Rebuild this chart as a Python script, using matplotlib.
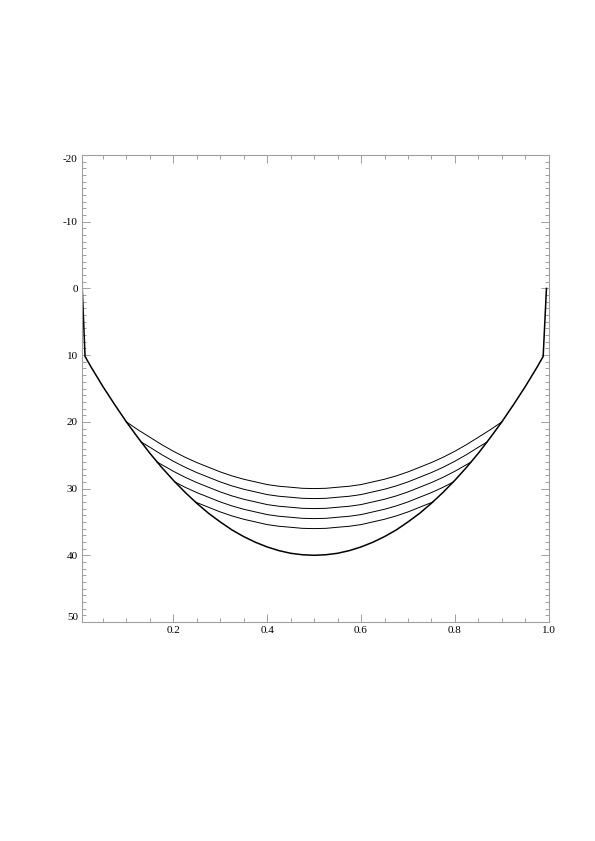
import matplotlib
matplotlib.use("Agg")
import matplotlib.pyplot as plt
from matplotlib.ticker import MultipleLocator

# outer profile (deepest curve)
outer_x = [0.006, 0.012, 0.025, 0.05, 0.075, 0.10, 0.125, 0.15, 0.175, 0.20, 0.225, 0.25,
           0.275, 0.30, 0.325, 0.35, 0.375, 0.40, 0.425, 0.45, 0.475, 0.50,
           0.525, 0.55, 0.575, 0.60, 0.625, 0.65, 0.675, 0.70, 0.725, 0.75,
           0.775, 0.80, 0.825, 0.85, 0.875, 0.90, 0.925, 0.95, 0.975, 0.988, 0.995]
outer_y = [0.0, 10.2, 11.8, 14.7, 17.4, 20.0, 22.4, 24.7, 26.8, 28.75, 30.55, 32.2,
           33.7, 35.0, 36.2, 37.2, 38.05, 38.75, 39.3, 39.7, 39.92, 40.0,
           39.92, 39.7, 39.3, 38.75, 38.05, 37.2, 36.2, 35.0, 33.7, 32.2,
           30.55, 28.75, 26.8, 24.7, 22.4, 20.0, 17.4, 14.7, 11.8, 10.2, 0.0]

# shallower curves, only the part that leaves the outer profile
c1_x = [0.10, 0.125, 0.15, 0.175, 0.20, 0.225, 0.25, 0.275, 0.30, 0.325, 0.35, 0.375, 0.40, 0.425, 0.45, 0.475,
        0.50, 0.525, 0.55, 0.575, 0.60, 0.625, 0.65, 0.675, 0.70, 0.725, 0.75, 0.775, 0.80, 0.825, 0.85, 0.875, 0.90]
c1_y = [20.0, 21.2, 22.3, 23.4, 24.4, 25.3, 26.1, 26.8, 27.5, 28.1, 28.6, 29.0, 29.4, 29.65, 29.8, 29.96,
        30.0, 29.96, 29.8, 29.65, 29.4, 29.0, 28.6, 28.1, 27.5, 26.8, 26.1, 25.3, 24.4, 23.4, 22.3, 21.2, 20.0]

c2_x = [0.131, 0.15, 0.175, 0.20, 0.225, 0.25, 0.275, 0.30, 0.325, 0.35, 0.375, 0.40, 0.425, 0.45, 0.475,
        0.50, 0.525, 0.55, 0.575, 0.60, 0.625, 0.65, 0.675, 0.70, 0.725, 0.75, 0.775, 0.80, 0.825, 0.85, 0.869]
c2_y = [23.0, 23.8, 24.9, 25.9, 26.8, 27.6, 28.3, 29.0, 29.6, 30.1, 30.5, 30.9, 31.15, 31.3, 31.46,
        31.5, 31.46, 31.3, 31.15, 30.9, 30.5, 30.1, 29.6, 29.0, 28.3, 27.6, 26.8, 25.9, 24.9, 23.8, 23.0]

c3_x = [0.165, 0.175, 0.20, 0.225, 0.25, 0.275, 0.30, 0.325, 0.35, 0.375, 0.40, 0.425, 0.45, 0.475,
        0.50, 0.525, 0.55, 0.575, 0.60, 0.625, 0.65, 0.675, 0.70, 0.725, 0.75, 0.775, 0.80, 0.825, 0.835]
c3_y = [26.0, 26.4, 27.4, 28.3, 29.1, 29.8, 30.5, 31.1, 31.6, 32.0, 32.4, 32.65, 32.8, 32.96,
        33.0, 32.96, 32.8, 32.65, 32.4, 32.0, 31.6, 31.1, 30.5, 29.8, 29.1, 28.3, 27.4, 26.4, 26.0]

c4_x = [0.203, 0.225, 0.25, 0.275, 0.30, 0.325, 0.35, 0.375, 0.40, 0.425, 0.45, 0.475,
        0.50, 0.525, 0.55, 0.575, 0.60, 0.625, 0.65, 0.675, 0.70, 0.725, 0.75, 0.775, 0.797]
c4_y = [29.0, 29.8, 30.6, 31.3, 32.0, 32.6, 33.1, 33.5, 33.9, 34.15, 34.3, 34.46,
        34.5, 34.46, 34.3, 34.15, 33.9, 33.5, 33.1, 32.6, 32.0, 31.3, 30.6, 29.8, 29.0]

c5_x = [0.247, 0.25, 0.275, 0.30, 0.325, 0.35, 0.375, 0.40, 0.425, 0.45, 0.475,
        0.50, 0.525, 0.55, 0.575, 0.60, 0.625, 0.65, 0.675, 0.70, 0.725, 0.75, 0.753]
c5_y = [32.0, 32.1, 32.8, 33.5, 34.1, 34.6, 35.0, 35.4, 35.65, 35.8, 35.96,
        36.0, 35.96, 35.8, 35.65, 35.4, 35.0, 34.6, 34.1, 33.5, 32.8, 32.1, 32.0]

x_ticks = [0.2, 0.4, 0.6, 0.8, 1.0]
y_ticks = [-20, -10, 0, 10, 20, 30, 40, 50]

fig = plt.figure(figsize=(5.95, 8.41), dpi=100)
ax = fig.add_axes([82 / 595, 1 - 622 / 841, 466.8 / 595, 467 / 841])

ax.plot(outer_x, outer_y, color="black", lw=1.1)
for cx, cy in [(c1_x, c1_y), (c2_x, c2_y), (c3_x, c3_y), (c4_x, c4_y), (c5_x, c5_y)]:
    ax.plot(cx, cy, color="black", lw=0.7)

ax.set_xlim(0.0055, 1.0)
ax.set_ylim(50, -20)
ax.set_xticks(x_ticks)
ax.set_xticklabels(["%.1f" % v for v in x_ticks])
ax.set_yticks(y_ticks)
ax.set_yticklabels([str(v) for v in y_ticks])
ax.xaxis.set_minor_locator(MultipleLocator(0.05))
ax.yaxis.set_minor_locator(MultipleLocator(1))

grey = "#a0a0a0"
for s in ax.spines.values():
    s.set_color(grey)
    s.set_linewidth(0.8)
ax.tick_params(which="both", direction="in", top=True, right=True, color=grey,
               width=0.7, labelsize=8, labelcolor="black")
ax.tick_params(which="major", length=6, pad=3)
ax.tick_params(which="minor", length=3)
for lab in ax.get_xticklabels() + ax.get_yticklabels():
    lab.set_family("Liberation Serif")

ylabs = ax.get_yticklabels()
ylabs[0].set_va("top")
ylabs[-1].set_va("bottom")

fig.savefig("out.png", dpi=100)
